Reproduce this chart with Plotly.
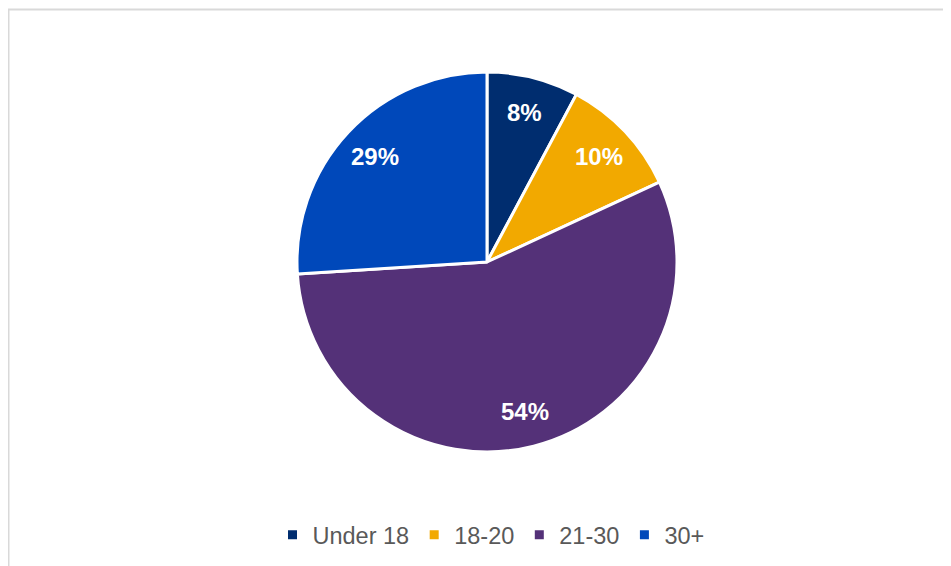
import math
import plotly.graph_objects as go

categories = ["Under 18", "18-20", "21-30", "30+"]
# slice shares as drawn in the picture
shares = [7.8, 10.3, 55.9, 26.0]
# data labels as printed in the picture
label_text = ["8%", "10%", "54%", "29%"]
colors = ["#002D6F", "#F2A900", "#543178", "#0048BA"]

# page body has an 8px margin; work in figure coordinates
OFF = 8
W, H = 951 - OFF, 566 - OFF
cx, cy, R = 487 - OFF, 262 - OFF, 190
LABEL_R = 0.81

fig = go.Figure(go.Pie(
    labels=categories,
    values=shares,
    textinfo="none",
    sort=False,
    direction="clockwise",
    rotation=0,
    marker=dict(colors=colors, line=dict(color="white", width=3)),
    domain=dict(x=[(cx - R) / W, (cx + R) / W], y=[(H - cy - R) / H, (H - cy + R) / H]),
    hoverinfo="label+percent",
))

# data labels placed at each slice's mid-angle (derived from the shares)
total = sum(shares)
annotations = []
cum = 0.0
for v, t in zip(shares, label_text):
    mid = (cum + v / 2) / total * 2 * math.pi
    cum += v
    px = cx + LABEL_R * R * math.sin(mid)
    py = cy - LABEL_R * R * math.cos(mid)
    annotations.append(dict(
        x=px / W, y=(H - py) / H, xref="paper", yref="paper",
        text=t, showarrow=False, xanchor="center", yanchor="middle",
        font=dict(family="Liberation Sans, Arial", size=24, color="white", weight="bold"),
    ))

fig.update_layout(
    width=W, height=H,
    margin=dict(l=0, r=0, t=0, b=0),
    paper_bgcolor="white",
    plot_bgcolor="white",
    showlegend=True,
    annotations=annotations,
    legend=dict(
        orientation="h",
        x=(491 - OFF) / W, xanchor="center",
        y=(H - (535 - OFF)) / H, yanchor="middle",
        font=dict(family="Liberation Sans, Arial", size=23.5, color="#595959"),
        itemwidth=30,
        traceorder="normal",
    ),
    shapes=[dict(
        type="rect", xref="paper", yref="paper",
        x0=0.5 / W, x1=1.05, y0=-0.05, y1=(H - 1.5) / H,
        line=dict(color="#D9D9D9", width=2), fillcolor="rgba(0,0,0,0)",
        layer="below",
    )],
)

fig.write_html("out.html")
